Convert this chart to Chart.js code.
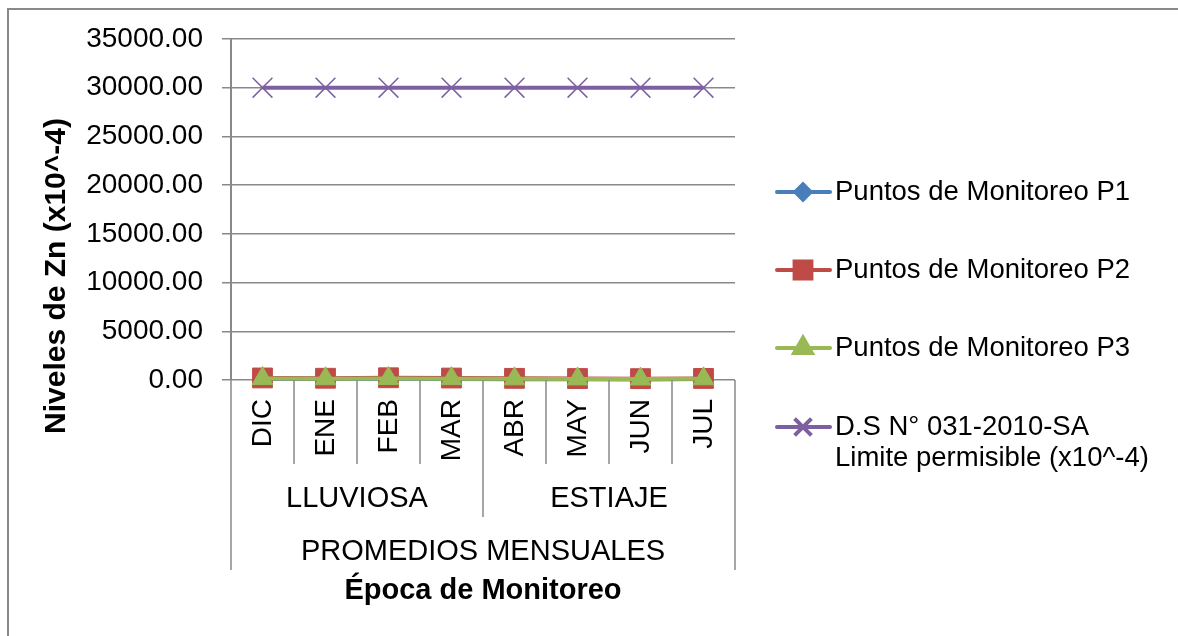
<!DOCTYPE html>
<html>
<head>
<meta charset="utf-8">
<script src="https://cdn.jsdelivr.net/npm/chart.js@4/dist/chart.umd.min.js"></script>
<style>
  body { margin: 0; background: #fff; }
  #wrap { width: 1178px; height: 636px; position: relative; }
</style>
</head>
<body>
<div id="wrap"><canvas id="line-chart" width="1178" height="636"></canvas></div>
<script>
// datos
var meses = ["DIC", "ENE", "FEB", "MAR", "ABR", "MAY", "JUN", "JUL"];
var epocas = ["LLUVIOSA", "LLUVIOSA", "LLUVIOSA", "LLUVIOSA", "ESTIAJE", "ESTIAJE", "ESTIAJE", "ESTIAJE"];
var grupo = "PROMEDIOS MENSUALES";
var p1 = [120, 95, 140, 110, 85, 70, 60, 90];
var p2 = [210, 180, 230, 200, 170, 150, 140, 160];
var p3 = [150, 130, 160, 140, 120, 110, 100, 125];
var limite = [30000, 30000, 30000, 30000, 30000, 30000, 30000, 30000];
var yMax = 35000;
var yPaso = 5000;

var tituloY = "Niveles de Zn (x10^-4)";
var tituloX = "Época de Monitoreo";
var fuente = "'Liberation Sans', Arial, sans-serif";
var gris = "#898989";

// borde exterior, etiquetas multinivel y leyenda
var extras = {
  id: 'extras',
  afterDraw: function(chart) {
    var ctx = chart.ctx;
    var x = chart.scales.x;
    var area = chart.chartArea;
    var w = x.getPixelForValue(1) - x.getPixelForValue(0);

    ctx.save();
    ctx.strokeStyle = gris;
    ctx.lineWidth = 2;
    ctx.strokeRect(8, 9, 1300, 800);

    // separadores del eje x
    ctx.lineWidth = 1.5;
    for (var i = 0; i <= meses.length; i++) {
      var px = Math.round(x.getPixelForValue(0) - w / 2 + i * w);
      var fin = 464;
      if (i == 0 || i == meses.length) fin = 570;
      else if (epocas[i] != epocas[i - 1]) fin = 517;
      ctx.beginPath();
      ctx.moveTo(px, area.bottom);
      ctx.lineTo(px, fin);
      ctx.stroke();
    }

    ctx.fillStyle = "#000";
    ctx.font = "28px " + fuente;
    ctx.textBaseline = "middle";

    // meses (verticales)
    for (var j = 0; j < meses.length; j++) {
      ctx.save();
      ctx.translate(x.getPixelForValue(j) + 1, 399);
      ctx.rotate(-Math.PI / 2);
      ctx.textAlign = "right";
      ctx.fillText(meses[j], 0, 0);
      ctx.restore();
    }

    // epocas
    ctx.font = "29px " + fuente;
    ctx.textAlign = "center";
    var ini = 0;
    for (var k = 1; k <= epocas.length; k++) {
      if (k == epocas.length || epocas[k] != epocas[ini]) {
        var cx = (x.getPixelForValue(ini) + x.getPixelForValue(k - 1)) / 2;
        ctx.fillText(epocas[ini], cx, 499);
        ini = k;
      }
    }
    var centro = (area.left + area.right) / 2;
    ctx.fillText(grupo, centro, 552);

    ctx.font = "bold 29px " + fuente;
    ctx.fillText(tituloX, centro, 591);

    ctx.save();
    ctx.translate(57, 276);
    ctx.rotate(-Math.PI / 2);
    ctx.font = "bold 30px " + fuente;
    ctx.fillText(tituloY, 0, 0);
    ctx.restore();

    // leyenda
    var filas = [192, 270, 348, 427];
    ctx.font = "27.5px " + fuente;
    ctx.textAlign = "left";
    chart.data.datasets.forEach(function(ds, n) {
      var y = filas[n];
      ctx.strokeStyle = ds.borderColor;
      ctx.fillStyle = ds.borderColor;
      ctx.lineWidth = 4;
      ctx.lineCap = "round";
      ctx.beginPath();
      ctx.moveTo(777, y);
      ctx.lineTo(830, y);
      ctx.stroke();
      ctx.lineCap = "butt";
      Chart.helpers.drawPoint(ctx, {
        pointStyle: ds.pointStyle,
        radius: ds.pointRadius * 0.85,
        rotation: 0,
        borderWidth: ds.pointBorderWidth
      }, 803, y);
      ctx.fillStyle = "#000";
      var lineas = [].concat(ds.label);
      lineas.forEach(function(t, m) {
        ctx.fillText(t, 835, y + m * 31);
      });
    });
    ctx.restore();
  }
};

new Chart(document.getElementById("line-chart"), {
  type: 'line',
  data: {
    labels: meses,
    datasets: [{
        label: "Puntos de Monitoreo P1",
        data: p1,
        order: 3,
        borderColor: "#4A7EBB",
        backgroundColor: "#4A7EBB",
        borderWidth: 4,
        pointStyle: "rectRot",
        pointRadius: 9,
        pointBorderWidth: 1,
        clip: false
      }, {
        label: "Puntos de Monitoreo P2",
        data: p2,
        order: 2,
        borderColor: "#BE4B48",
        backgroundColor: "#BE4B48",
        borderWidth: 4,
        pointStyle: "rect",
        pointRadius: 14,
        pointBorderWidth: 1,
        clip: false
      }, {
        label: "Puntos de Monitoreo P3",
        data: p3,
        order: 1,
        borderColor: "#98B954",
        backgroundColor: "#98B954",
        borderWidth: 4,
        pointStyle: "triangle",
        pointRadius: 12,
        pointBorderWidth: 1,
        clip: false
      }, {
        label: ["D.S N° 031-2010-SA", "Limite permisible (x10^-4)"],
        data: limite,
        order: 0,
        borderColor: "#7D60A0",
        backgroundColor: "#7D60A0",
        borderWidth: 4,
        pointStyle: "crossRot",
        pointRadius: 14,
        pointBorderWidth: 1.5,
        clip: false
      }
    ]
  },
  options: {
    responsive: false,
    animation: false,
    devicePixelRatio: 1,
    layout: { padding: { left: 8, top: 39, right: 443, bottom: 256 } },
    plugins: {
      legend: { display: false },
      tooltip: { enabled: false }
    },
    scales: {
      x: {
        offset: true,
        ticks: { display: false },
        grid: { display: false },
        border: { display: false },
        afterFit: function(s) { s.height = 0; }
      },
      y: {
        min: 0,
        max: yMax,
        ticks: {
          stepSize: yPaso,
          padding: 19,
          color: "#000",
          font: { family: fuente, size: 28 },
          callback: function(v) { return v.toFixed(2); }
        },
        grid: { color: gris, lineWidth: 1.5, tickLength: 9 },
        border: { color: gris, width: 2 },
        afterFit: function(s) { s.width = 223; }
      }
    }
  },
  plugins: [extras]
});
</script>
</body>
</html>
